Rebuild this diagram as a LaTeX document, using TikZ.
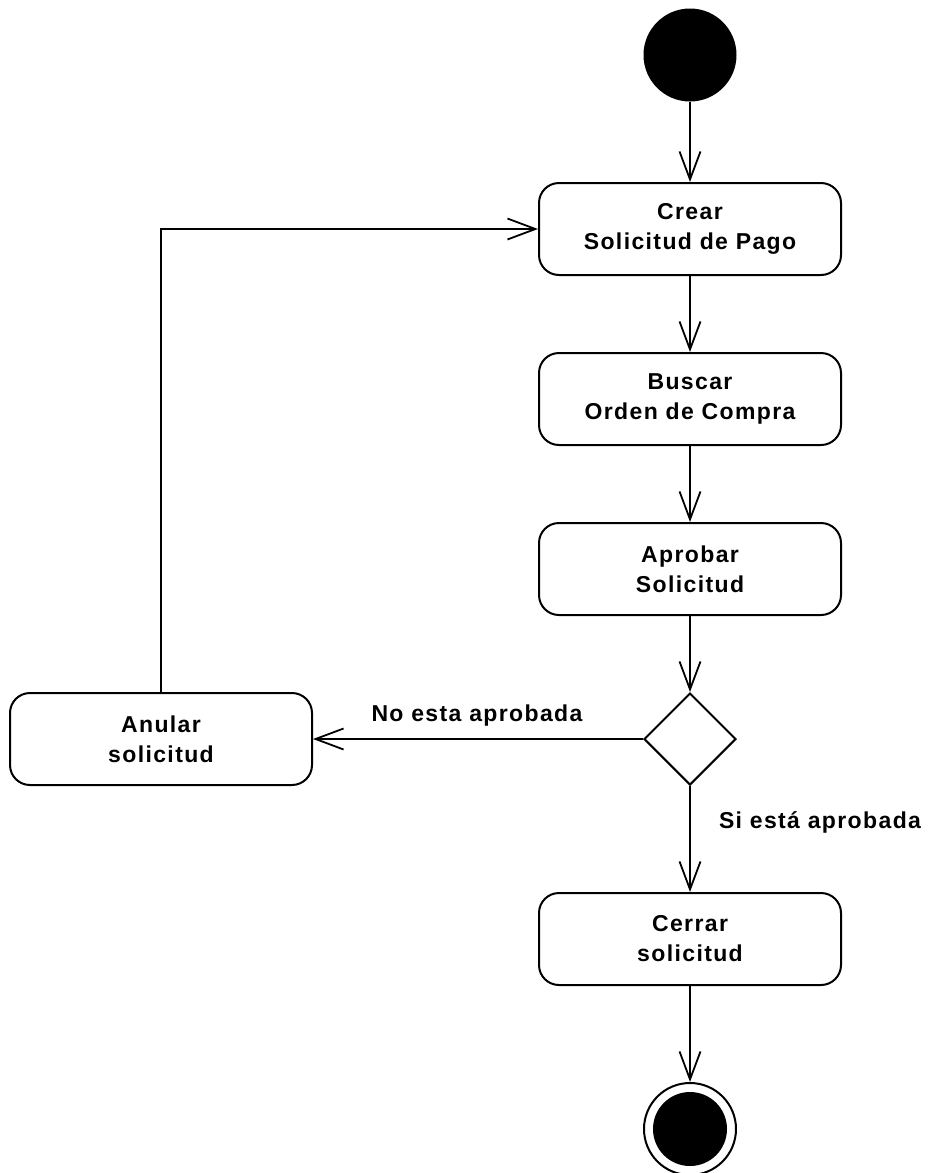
\documentclass[tikz,border=0pt]{standalone}
\usepackage{fontspec}
\setmainfont{Liberation Sans}[LetterSpace=6]
\usetikzlibrary{shapes.geometric,arrows.meta}
\begin{document}
\begin{tikzpicture}[x=1pt,y=-1pt,
  act/.style={draw,line width=2pt,rounded corners=20pt,minimum width=302pt,minimum height=92pt,inner sep=0pt,align=center,font=\fontsize{23}{30}\selectfont\bfseries},
  lbl/.style={font=\fontsize{23}{30}\selectfont\bfseries,inner sep=0pt},
  flow/.style={line width=1.8pt,-{Straight Barb[length=28pt,width=21pt,line width=1.8pt]}},
  ]
\useasboundingbox (0,0) rectangle (932,1173);
\node[circle,fill=black,minimum size=93pt,inner sep=0pt] (start) at (690,55) {};
\node[act] (crear) at (690,229) {Crear\\Solicitud de Pago};
\node[act] (buscar) at (690,399) {Buscar\\Orden de Compra};
\node[act] (aprobar) at (690,569) {Aprobar\\Solicitud};
\node[diamond,draw,line width=2pt,minimum width=92pt,minimum height=92pt,inner sep=0pt] (dec) at (690,739) {};
\node[act] (anular) at (161,739) {Anular\\solicitud};
\node[act] (cerrar) at (690,939) {Cerrar\\solicitud};
\node[circle,draw,line width=2pt,minimum size=92pt,inner sep=0pt] (fin) at (690,1129) {};
\node[circle,fill=black,minimum size=74pt,inner sep=0pt] (finin) at (fin.center) {};
\node[lbl] (no) at (477,716) {No esta aprobada};
\node[lbl] (si) at (820,822) {Si está aprobada};
\draw[flow] (start) -- (crear);
\draw[flow] (crear) -- (buscar);
\draw[flow] (buscar) -- (aprobar);
\draw[flow] (aprobar) -- (dec.north);
\draw[flow] (dec.west) -- (anular.east);
\draw[flow] (dec.south) -- (cerrar.north);
\draw[flow] (cerrar) -- (fin.north);
\draw[flow] (anular.north) |- (crear.west);
\end{tikzpicture}
\end{document}
